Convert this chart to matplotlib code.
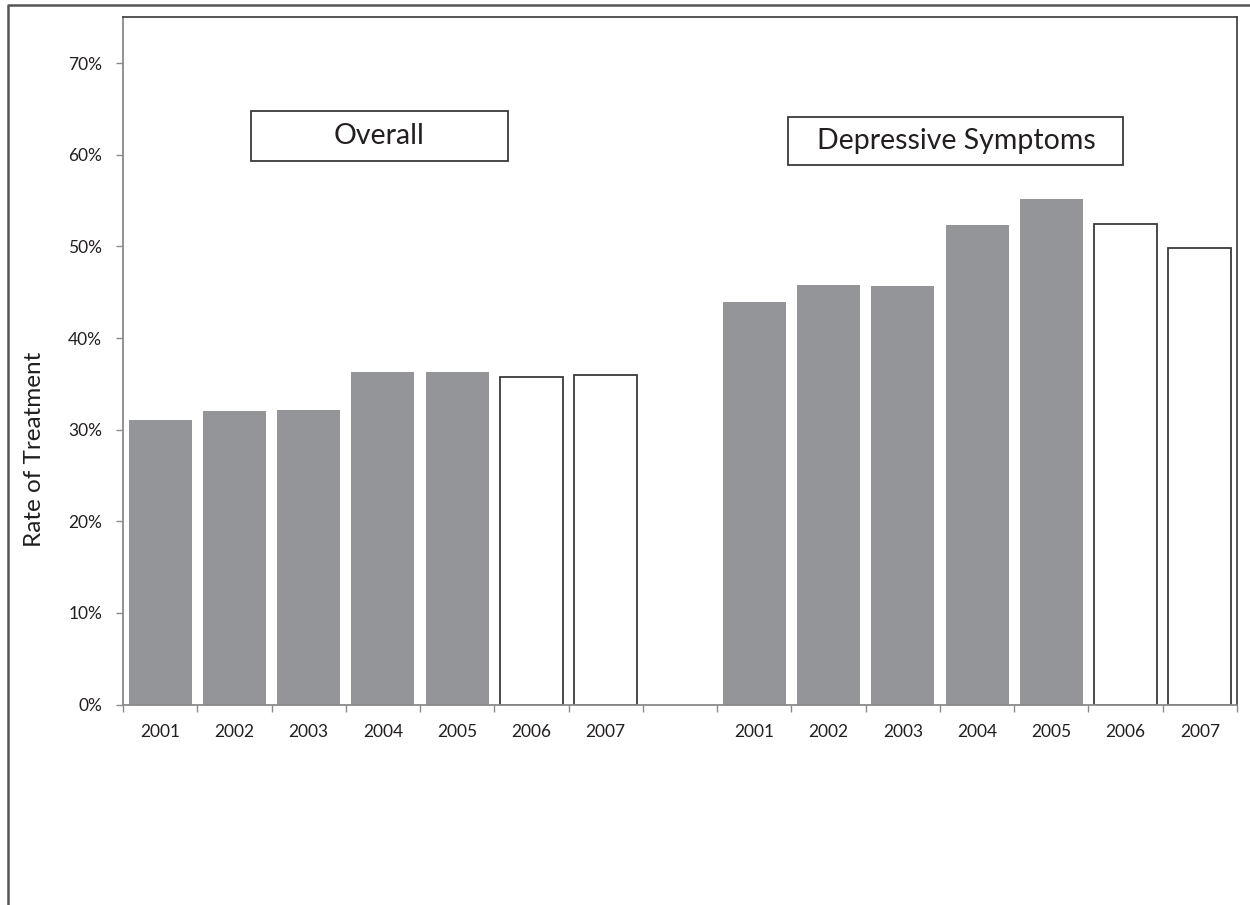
import numpy as np
import matplotlib.pyplot as plt
from matplotlib.patches import Rectangle
from matplotlib.ticker import PercentFormatter

plt.rcParams['font.family'] = ['Lato', 'DejaVu Sans']

# data
years = ['2001', '2002', '2003', '2004', '2005', '2006', '2007']
overall = [0.311, 0.320, 0.321, 0.363, 0.363, 0.358, 0.360]
depressive = [0.439, 0.458, 0.457, 0.523, 0.552, 0.525, 0.498]
hollow_years = ['2006', '2007']   # drawn as open bars

gray = '#939598'
dark = '#3a3a3a'
axis_gray = '#8a8a8a'
text_col = '#231f20'

fig = plt.figure(figsize=(12.5, 9.05), dpi=100)
ax = fig.add_axes([123 / 1250, 1 - 704.5 / 905, (1237 - 123) / 1250, (704.5 - 17.5) / 905])

# positions: first group 0..6, a blank slot, second group 8..14
x_over = np.arange(len(years))
x_dep = np.arange(len(years)) + len(years) + 1

for xs, vals in [(x_over, overall), (x_dep, depressive)]:
    for x, v, yr in zip(xs, vals, years):
        if yr in hollow_years:
            ax.bar(x, v, width=0.85, color='white', edgecolor=dark, linewidth=1.3, zorder=2)
        else:
            ax.bar(x, v, width=0.85, color=gray, edgecolor='none', zorder=2)

n = 2 * len(years) + 1
ax.set_xlim(-0.5, n - 0.5)
ax.set_ylim(0, 0.75)

ax.set_xticks(np.arange(n))
ax.set_xticklabels(years + [''] + years)
ax.set_xticks(np.arange(n + 1) - 0.5, minor=True)
ax.tick_params(axis='x', which='major', length=0, pad=14, labelsize=12.5, labelcolor=text_col)
ax.tick_params(axis='x', which='minor', length=5, width=1, color=axis_gray, direction='out')

ax.set_yticks(np.arange(0, 0.71, 0.1))
ax.yaxis.set_major_formatter(PercentFormatter(1.0, decimals=0))
ax.tick_params(axis='y', length=5, width=1, color=axis_gray, pad=10, labelsize=12.5, labelcolor=text_col)

ax.spines['left'].set_color(axis_gray)
ax.spines['bottom'].set_color(axis_gray)
ax.spines['left'].set_linewidth(1.3)
ax.spines['bottom'].set_linewidth(1.3)
ax.spines['top'].set_color(dark)
ax.spines['right'].set_color(dark)
ax.spines['top'].set_linewidth(1.2)
ax.spines['right'].set_linewidth(1.2)

# group captions in boxes
ax.add_patch(Rectangle((1.22, 0.5935), 4.68 - 1.22, 0.6474 - 0.5935, fill=False,
                       edgecolor=dark, linewidth=1.3, zorder=3))
ax.text(2.947, 0.621, 'Overall', ha='center', va='center', fontsize=20.5, color=text_col)
ax.add_patch(Rectangle((8.45, 0.5892), 12.96 - 8.45, 0.6416 - 0.5892, fill=False,
                       edgecolor=dark, linewidth=1.3, zorder=3))
ax.text(10.716, 0.6154, 'Depressive Symptoms', ha='center', va='center', fontsize=20.5, color=text_col)

fig.text(35 / 1250, 1 - 449 / 905, 'Rate of Treatment', rotation=90, ha='center', va='center',
         fontsize=17.5, color=text_col)

# outer frame (cut at right and bottom)
fig.add_artist(plt.Line2D([8 / 1250, 8 / 1250, 1], [0, 1 - 5 / 905, 1 - 5 / 905],
                          transform=fig.transFigure, color='#555555', linewidth=1.8))

fig.savefig('out.png', dpi=100)
